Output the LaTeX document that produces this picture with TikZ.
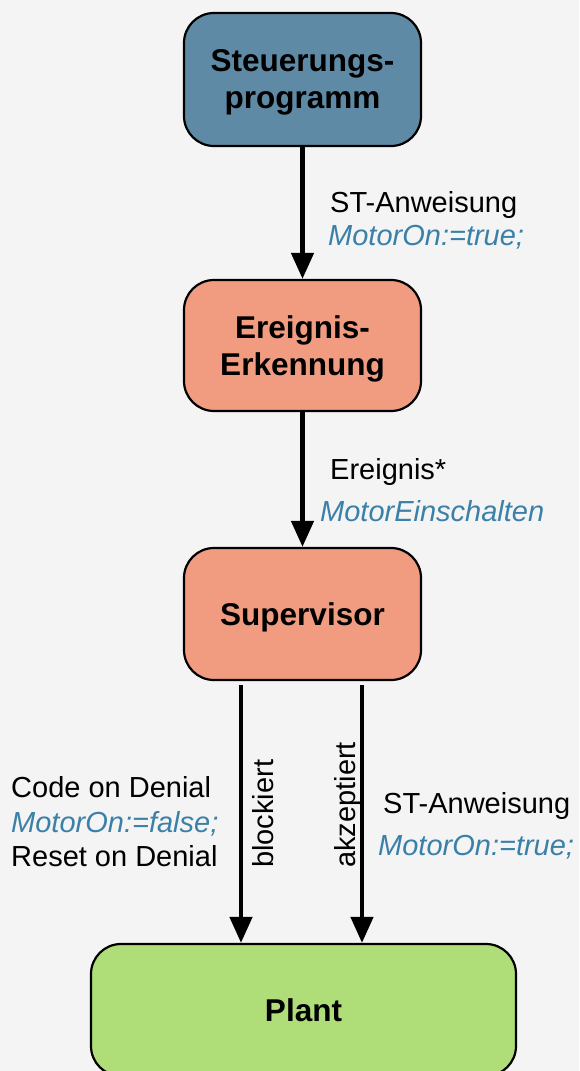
\documentclass[tikz,border=0pt]{standalone}
\usepackage{fontspec}
\setmainfont{Liberation Sans}
\usetikzlibrary{arrows.meta,calc}
\definecolor{bgc}{HTML}{F3F4F3}
\definecolor{steuc}{HTML}{5F8AA6}
\definecolor{salm}{HTML}{F19C80}
\definecolor{plantc}{HTML}{AFDD77}
\definecolor{codeblue}{HTML}{3A80A8}
\tikzset{
  box/.style={draw=black, line width=2.2pt, rounded corners=30pt, minimum width=237pt, align=center, font=\fontsize{31.5}{37}\selectfont\bfseries, inner sep=0pt},
  arr/.style={line width=4.5pt, -{Triangle[width=22pt,length=26pt]}},
  lbl/.style={font=\fontsize{29}{34}\selectfont, inner sep=0pt, align=left},
  code/.style={font=\fontsize{29}{34}\selectfont\itshape, text=codeblue, inner sep=0pt}
}
\begin{document}
\begin{tikzpicture}[x=1pt,y=1pt]
\fill[bgc] (0,0) rectangle (579,-1071);
\useasboundingbox (0,0) rectangle (579,-1071);
\clip (0,0) rectangle (579,-1071);
\node[box, fill=steuc, minimum height=133pt, text depth=0pt] (steu) at (302.5,-79.5) {Steuerungs-\\programm};
\node[box, fill=salm, minimum height=131pt, text depth=0pt] (ereig) at (302.5,-345.5) {Ereignis-\\Erkennung};
\node[box, fill=salm, minimum height=132pt, text depth=0pt] (sup) at (302.5,-614) {Supervisor};
\node[box, fill=plantc, minimum width=425pt, minimum height=132pt] (plant) at (303.5,-1010) {Plant};
\draw[arr] (steu.south) -- (ereig.north);
\draw[arr] (ereig.south) -- (sup.north);
\coordinate (bx) at (241,0);
\coordinate (ax) at (362,0);
\draw[arr, shorten <=4pt] (bx |- sup.south) -- (bx |- plant.north);
\draw[arr, shorten <=4pt] (ax |- sup.south) -- (ax |- plant.north);
\node[lbl, anchor=base west] (l1) at (330,-212) {ST-Anweisung};
\node[code, anchor=base west] (c1) at (328,-245) {MotorOn:=true;};
\node[lbl, anchor=base west] (l2) at (330,-479) {Ereignis*};
\node[code, anchor=base west] (c2) at (320,-521) {MotorEinschalten};
\node[lbl, anchor=base west] (l3) at (11,-797) {Code on Denial};
\node[code, anchor=base west] (c3) at (11,-832) {MotorOn:=false;};
\node[lbl, anchor=base west] (l4) at (11,-866) {Reset on Denial};
\node[lbl, rotate=90, anchor=base west] (bl) at (273,-868) {blockiert};
\node[lbl, rotate=90, anchor=base west] (ak) at (355,-868) {akzeptiert};
\node[lbl, anchor=base west] (l5) at (383,-813) {ST-Anweisung};
\node[code, anchor=base west] (c5) at (378,-855) {MotorOn:=true;};
\end{tikzpicture}
\end{document}
